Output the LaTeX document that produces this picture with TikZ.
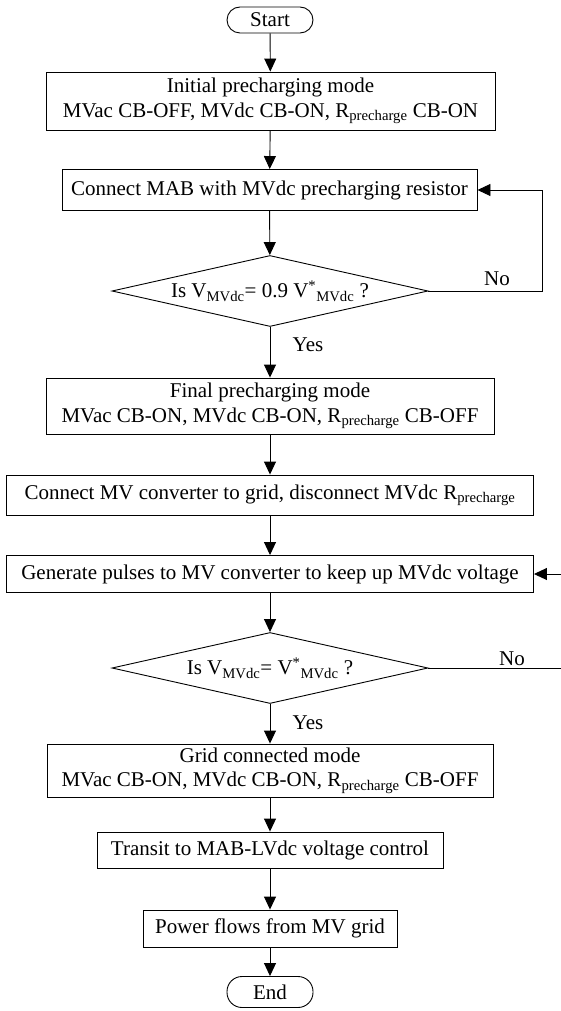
\documentclass[tikz,border=0pt]{standalone}
\usepackage{fontspec}
\setmainfont{Liberation Serif}
\usetikzlibrary{shapes.geometric,arrows.meta}
\begin{document}
\begin{tikzpicture}[x=1pt,y=-1pt,
  every node/.style={font=\fontsize{21}{24.5}\selectfont, inner sep=0pt},
  box/.style={draw, line width=0.9pt, rectangle, align=center},
  pill/.style={draw, line width=0.9pt, rectangle, rounded corners=13pt, minimum width=86pt},
  dia/.style={draw, line width=0.9pt, diamond, minimum width=316pt, minimum height=71pt},
  arr/.style={line width=0.9pt, -{Triangle[length=13pt,width=12pt]}},
  ln/.style={line width=0.9pt}]
\useasboundingbox (0,0) rectangle (561,1011);
\node[pill, minimum height=26pt] (start) at (270,20) {Start};
\node[box, minimum width=449pt, minimum height=58pt] (b1) at (270.5,101)
  {Initial precharging mode\\MVac CB-OFF, MVdc CB-ON, R\textsubscript{precharge} CB-ON};
\node[box, minimum width=415pt, minimum height=41pt] (b2) at (269.5,190)
  {Connect MAB with MVdc precharging resistor};
\node[dia, label={center:Is V\textsubscript{MVdc}= 0.9 V\textsuperscript{*}\textsubscript{MVdc} ?}] (d1) at (270,291) {};
\node (no1) at (497,279) {No};
\node (yes1) at (308,345) {Yes};
\node[box, minimum width=448pt, minimum height=56pt] (b3) at (270,406)
  {Final precharging mode\\MVac CB-ON, MVdc CB-ON, R\textsubscript{precharge} CB-OFF};
\node[box, minimum width=527pt, minimum height=40pt] (b4) at (270,495)
  {Connect MV converter to grid, disconnect MVdc R\textsubscript{precharge}};
\node[box, minimum width=527pt, minimum height=37pt] (b5) at (270,574)
  {Generate pulses to MV converter to keep up MVdc voltage};
\node[dia, label={center:Is V\textsubscript{MVdc}= V\textsuperscript{*}\textsubscript{MVdc} ?}] (d2) at (270,668) {};
\node (no2) at (512,659) {No};
\node (yes2) at (308,723) {Yes};
\node[box, minimum width=446pt, minimum height=53pt] (b6) at (270,770.5)
  {Grid connected mode\\MVac CB-ON, MVdc CB-ON, R\textsubscript{precharge} CB-OFF};
\node[box, minimum width=346pt, minimum height=36pt] (b7) at (270,850)
  {Transit to MAB-LVdc voltage control};
\node[box, minimum width=254pt, minimum height=37pt] (b8) at (270,928.5)
  {Power flows from MV grid};
\node[pill, minimum height=31pt, rounded corners=15pt] (end) at (270,992) {End};
\coordinate (l1) at (542,291);
\coordinate (r1) at (561,574);
\coordinate (r2) at (561,668);
\draw[arr] (start) -- (b1);
\draw[arr] (b1) -- (b2);
\draw[arr] (b2) -- (d1);
\draw[arr] (d1) -- (b3);
\draw[arr] (b3) -- (b4);
\draw[arr] (b4) -- (b5);
\draw[arr] (b5) -- (d2);
\draw[arr] (d2) -- (b6);
\draw[arr] (b6) -- (b7);
\draw[arr] (b7) -- (b8);
\draw[arr] (b8) -- (end);
\draw[arr] (d1.east) -- (l1) -- (b2.east -| l1) -- (b2.east);
\draw[ln] (d2.east) -- (r2);
\draw[arr] (r1) -- (b5.east);
\end{tikzpicture}
\end{document}
